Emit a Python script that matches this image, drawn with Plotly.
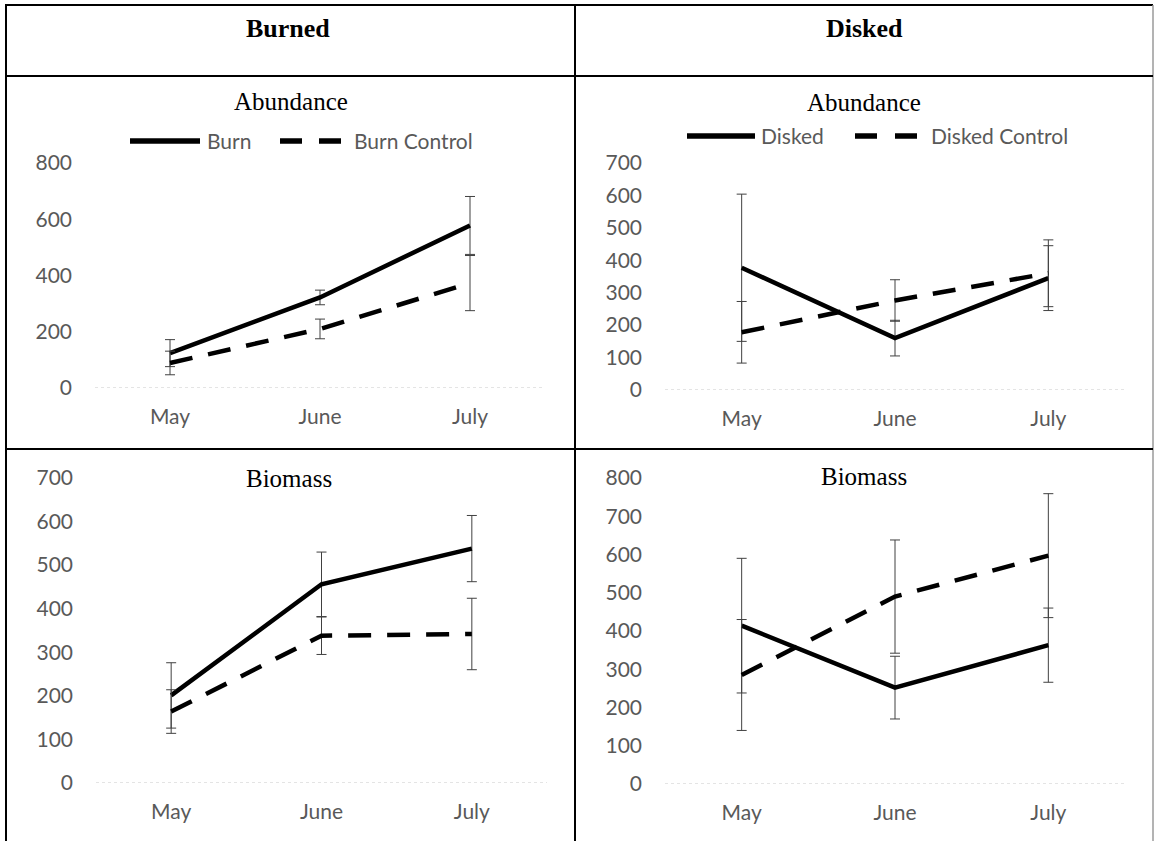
import plotly.graph_objects as go

# ---------------- data ----------------
months = ["May", "June", "July"]

burn_abund = [124, 322, 578]
burn_abund_err = [48, 26, 103]
burnctl_abund = [89, 210, 373]
burnctl_abund_err = [42, 35, 98]

disk_abund = [377, 160, 345]
disk_abund_err = [227, 55, 100]
diskctl_abund = [178, 276, 360]
diskctl_abund_err = [95, 64, 103]

burn_bio = [201, 456, 538]
burn_bio_err = [75, 74, 76]
burnctl_bio = [164, 338, 342]
burnctl_bio_err = [50, 43, 82]

disk_bio = [414, 252, 363]
disk_bio_err = [176, 82, 97]
diskctl_bio = [285, 490, 597]
diskctl_bio_err = [145, 148, 162]

# ---------------- layout helpers ----------------
W, H = 1155, 841


def px(x):
    return x / W


def py(y):
    return 1 - y / H


TICK_FONT = dict(family="Lato, Open Sans, sans-serif", size=21, color="#595959")
TITLE_FONT = dict(family="Liberation Serif, Times New Roman, serif", size=25, color="#000000")
HEAD_FONT = dict(family="Liberation Serif, Times New Roman, serif", size=26, color="#000000")
LINE_W = 4.5
DASH = "23px,16px"
ERR = dict(type="data", visible=True, color="#404040", thickness=1, width=5)

fig = go.Figure()


def add_pair(sol_y, sol_e, sol_name, dash_y, dash_e, dash_name, ax):
    xa = "x" if ax == 1 else f"x{ax}"
    ya = "y" if ax == 1 else f"y{ax}"
    fig.add_trace(go.Scatter(
        x=months, y=sol_y, name=sol_name, mode="lines",
        line=dict(color="#000000", width=LINE_W),
        error_y=dict(array=sol_e, **ERR),
        xaxis=xa, yaxis=ya, showlegend=False))
    fig.add_trace(go.Scatter(
        x=months, y=dash_y, name=dash_name, mode="lines",
        line=dict(color="#000000", width=LINE_W, dash=DASH),
        error_y=dict(array=dash_e, **ERR),
        xaxis=xa, yaxis=ya, showlegend=False))


add_pair(burn_abund, burn_abund_err, "Burn", burnctl_abund, burnctl_abund_err, "Burn Control", 1)
add_pair(disk_abund, disk_abund_err, "Disked", diskctl_abund, diskctl_abund_err, "Disked Control", 2)
add_pair(burn_bio, burn_bio_err, "Burn", burnctl_bio, burnctl_bio_err, "Burn Control", 3)
add_pair(disk_bio, disk_bio_err, "Disked", diskctl_bio, diskctl_bio_err, "Disked Control", 4)

panels = {
    1: dict(xd=[95, 545], yd=[388, 163], yr=[0, 800], dt=200),
    2: dict(xd=[665, 1125], yd=[390, 163], yr=[0, 700], dt=100),
    3: dict(xd=[96, 547], yd=[783, 478], yr=[0, 700], dt=100),
    4: dict(xd=[665, 1125], yd=[784, 478], yr=[0, 800], dt=100),
}

layout = dict(
    width=W, height=H,
    margin=dict(l=0, r=0, t=0, b=0, autoexpand=False),
    paper_bgcolor="white", plot_bgcolor="white",
    showlegend=False,
)
shapes = []
for k, p in panels.items():
    sx = "" if k == 1 else str(k)
    layout[f"xaxis{sx}"] = dict(
        domain=[px(p["xd"][0]), px(p["xd"][1])],
        anchor=f"y{sx}", type="category", range=[-0.5, 2.5],
        showgrid=False, zeroline=False, showline=False, ticks="",
        automargin=False,
        tickfont=TICK_FONT, ticklabelstandoff=14, fixedrange=True)
    layout[f"yaxis{sx}"] = dict(
        domain=[py(p["yd"][0]), py(p["yd"][1])],
        anchor=f"x{sx}", range=p["yr"], dtick=p["dt"], tick0=0,
        showgrid=False, zeroline=False, showline=False, ticks="",
        automargin=False,
        tickfont=TICK_FONT, ticklabelstandoff=22, fixedrange=True)
    shapes.append(dict(type="line", xref=f"x{sx} domain", yref=f"y{sx}",
                       x0=0, x1=1, y0=0, y1=0,
                       line=dict(color="#c8c8c8", width=1, dash="dot"),
                       layer="below"))

# table borders
border = dict(color="#000000", width=2)
shapes += [
    dict(type="line", xref="paper", yref="paper", x0=px(5), x1=px(1153), y0=py(5), y1=py(5), line=border),
    dict(type="line", xref="paper", yref="paper", x0=px(6), x1=px(6), y0=py(5), y1=py(841), line=border),
    dict(type="line", xref="paper", yref="paper", x0=px(1153), x1=px(1153), y0=py(5), y1=py(841),
         line=dict(color="#9a9a9a", width=1.5)),
    dict(type="line", xref="paper", yref="paper", x0=px(575), x1=px(575), y0=py(5), y1=py(841), line=border),
    dict(type="line", xref="paper", yref="paper", x0=px(5), x1=px(1153), y0=py(76), y1=py(76), line=border),
    dict(type="line", xref="paper", yref="paper", x0=px(5), x1=px(1153), y0=py(449), y1=py(449), line=border),
]

# legend keys (line samples) for the two top panels
LEG_W = 5.5
legend_keys = [
    # (x0, x1, y, dash)
    (130, 200, 141, None),
    (280, 341, 141, "22px,17px"),
    (687, 755, 136, None),
    (855, 917, 136, "22px,18px"),
]
for x0, x1, yy, d in legend_keys:
    ln = dict(color="#000000", width=LEG_W)
    if d:
        ln["dash"] = d
    shapes.append(dict(type="line", xref="paper", yref="paper",
                       x0=px(x0), x1=px(x1), y0=py(yy), y1=py(yy), line=ln))
layout["shapes"] = shapes

annotations = [
    dict(text="<b>Burned</b>", x=px(288), y=py(28), font=HEAD_FONT),
    dict(text="<b>Disked</b>", x=px(864), y=py(28), font=HEAD_FONT),
    dict(text="Abundance", x=px(291), y=py(101), font=TITLE_FONT),
    dict(text="Abundance", x=px(864), y=py(103), font=TITLE_FONT),
    dict(text="Biomass", x=px(289), y=py(478), font=TITLE_FONT),
    dict(text="Biomass", x=px(864), y=py(476), font=TITLE_FONT),
]
for a in annotations:
    a.update(xanchor="center")
legend_texts = [
    ("Burn", 205, 141),
    ("Burn Control", 352, 141),
    ("Disked", 759, 136),
    ("Disked Control", 929, 136),
]
for t, xx, yy in legend_texts:
    annotations.append(dict(text=t, x=px(xx), y=py(yy), font=TICK_FONT, xanchor="left"))
for a in annotations:
    a.update(xref="paper", yref="paper", showarrow=False, yanchor="middle")
layout["annotations"] = annotations

fig.update_layout(**layout)
fig.write_html(
    "out.html",
    config={"displayModeBar": False, "staticPlot": True},
    post_script="document.body.style.margin='0';document.body.style.overflow='hidden';",
)
